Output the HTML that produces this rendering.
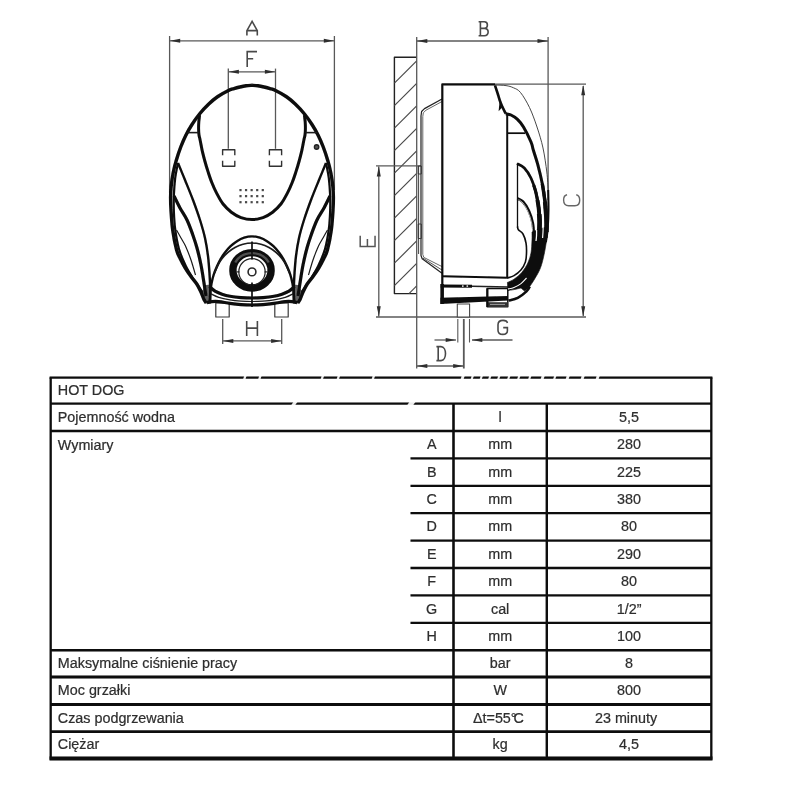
<!DOCTYPE html>
<html><head><meta charset="utf-8"><title>HOT DOG</title>
<style>
html,body{margin:0;padding:0;background:#fff;}
body{width:800px;height:800px;overflow:hidden;font-family:"Liberation Sans",sans-serif;}
svg{position:absolute;left:0;top:0;display:block;}
.t text{font-family:"Liberation Sans",sans-serif;font-size:14.35px;fill:#2e2e2e;stroke:#2e2e2e;stroke-width:0.22px;}
</style></head><body>
<svg class="d" width="800" height="800" viewBox="0 0 800 800" stroke-linecap="butt" stroke-linejoin="round">
<rect width="800" height="800" fill="#fff"/>
<g filter="url(#bl)">
<line x1="169.6" y1="36" x2="169.6" y2="193" stroke="#585858" stroke-width="1.3"/>
<line x1="334.4" y1="36" x2="334.4" y2="190" stroke="#585858" stroke-width="1.3"/>
<line x1="169.6" y1="40.8" x2="334.4" y2="40.8" stroke="#585858" stroke-width="1.3"/>
<path d="M169.9 40.8L180.2 38.8L180.2 42.8Z" fill="#2e2e2e"/>
<path d="M334.1 40.8L323.8 42.8L323.8 38.8Z" fill="#2e2e2e"/>
<line x1="228.3" y1="68.6" x2="228.3" y2="148.8" stroke="#585858" stroke-width="1.3"/>
<line x1="275.5" y1="68.6" x2="275.5" y2="148.8" stroke="#585858" stroke-width="1.3"/>
<line x1="228.3" y1="71.8" x2="275.5" y2="71.8" stroke="#585858" stroke-width="1.3"/>
<path d="M228.6 71.8L238.9 69.8L238.9 73.8Z" fill="#2e2e2e"/>
<path d="M275.2 71.8L264.9 73.8L264.9 69.8Z" fill="#2e2e2e"/>
<line x1="222.7" y1="319" x2="222.7" y2="344" stroke="#585858" stroke-width="1.3"/>
<line x1="281.7" y1="319" x2="281.7" y2="344" stroke="#585858" stroke-width="1.3"/>
<line x1="222.7" y1="340.9" x2="281.7" y2="340.9" stroke="#585858" stroke-width="1.3"/>
<path d="M223 340.9L233.3 338.9L233.3 342.9Z" fill="#2e2e2e"/>
<path d="M281.4 340.9L271.1 342.9L271.1 338.9Z" fill="#2e2e2e"/>
<path d="M252 85.3C251 85.38 248 85.52 246 85.8C244 86.08 242 86.53 240 87C238 87.47 236 87.97 234 88.6C232 89.22 230.75 89.39 228 90.75C225.25 92.11 220.75 94.5 217.5 96.75C214.25 99 211.5 101.38 208.5 104.25C205.5 107.12 202.25 110.62 199.5 114C196.75 117.38 194.25 121 192 124.5C189.75 128 187.88 131.25 186 135C184.12 138.75 182.38 142.75 180.75 147C179.12 151.25 177.5 156.25 176.25 160.5C175 164.75 174.09 168.25 173.25 172.5C172.41 176.75 171.64 181.92 171.2 186C170.76 190.08 170.63 193 170.6 197C170.57 201 170.65 204.5 171 210C171.35 215.5 171.77 223.33 172.7 230C173.63 236.67 175.32 245.17 176.6 250C177.88 254.83 178.95 256 180.4 259C181.85 262 183.53 265.08 185.3 268C187.07 270.92 189.08 273.83 191 276.5C192.92 279.17 195.13 281.42 196.8 284C198.47 286.58 199.8 289.42 201 292C202.2 294.58 203.12 297.67 204 299.5C204.88 301.33 205.92 302.42 206.3 303" stroke="#0a0a0a" stroke-width="3.4" fill="none" />
<path d="M252 85.3C253 85.38 256 85.52 258 85.8C260 86.08 262 86.53 264 87C266 87.47 268 87.97 270 88.6C272 89.22 273.25 89.39 276 90.75C278.75 92.11 283.25 94.5 286.5 96.75C289.75 99 292.5 101.38 295.5 104.25C298.5 107.12 301.75 110.62 304.5 114C307.25 117.38 309.75 121 312 124.5C314.25 128 316.12 131.25 318 135C319.88 138.75 321.62 142.75 323.25 147C324.88 151.25 326.5 156.25 327.75 160.5C329 164.75 329.91 168.25 330.75 172.5C331.59 176.75 332.36 181.92 332.8 186C333.24 190.08 333.37 193 333.4 197C333.43 201 333.35 204.5 333 210C332.65 215.5 332.23 223.33 331.3 230C330.37 236.67 328.68 245.17 327.4 250C326.12 254.83 325.05 256 323.6 259C322.15 262 320.47 265.08 318.7 268C316.93 270.92 314.92 273.83 313 276.5C311.08 279.17 308.87 281.42 307.2 284C305.53 286.58 304.2 289.42 303 292C301.8 294.58 300.88 297.67 300 299.5C299.12 301.33 298.08 302.42 297.7 303" stroke="#0a0a0a" stroke-width="3.4" fill="none" />
<path d="M178 163C177.53 165.5 175.88 172.67 175.2 178C174.52 183.33 174.12 189.33 173.9 195C173.68 200.67 173.67 206.17 173.9 212C174.13 217.83 174.45 223.83 175.3 230C176.15 236.17 177.25 243 179 249C180.75 255 183.3 260.83 185.8 266C188.3 271.17 191.22 275.67 194 280C196.78 284.33 201.08 290 202.5 292" stroke="#0a0a0a" stroke-width="2.2" fill="none" />
<path d="M326 163C326.47 165.5 328.12 172.67 328.8 178C329.48 183.33 329.88 189.33 330.1 195C330.32 200.67 330.33 206.17 330.1 212C329.87 217.83 329.55 223.83 328.7 230C327.85 236.17 326.75 243 325 249C323.25 255 320.7 260.83 318.2 266C315.7 271.17 312.78 275.67 310 280C307.22 284.33 302.92 290 301.5 292" stroke="#0a0a0a" stroke-width="2.2" fill="none" />
<path d="M199.6 115C199.47 116.17 198.97 119.67 198.8 122C198.63 124.33 198.57 126.83 198.6 129C198.63 131.17 198.75 133.17 199 135C199.25 136.83 199.57 137.4 200.1 140C200.63 142.6 201.4 147.06 202.2 150.6C203 154.14 203.92 157.7 204.9 161.25C205.88 164.8 206.95 168.36 208.1 171.9C209.25 175.44 210.38 178.97 211.8 182.5C213.22 186.03 214.75 189.56 216.6 193.1C218.45 196.64 220.43 200.56 222.9 203.75C225.37 206.94 228.38 209.94 231.4 212.25C234.42 214.56 237.57 216.38 241 217.6C244.43 218.82 248.33 219.6 252 219.6C255.67 219.6 259.57 218.82 263 217.6C266.43 216.38 269.58 214.56 272.6 212.25C275.62 209.94 278.63 206.94 281.1 203.75C283.57 200.56 285.55 196.64 287.4 193.1C289.25 189.56 290.78 186.03 292.2 182.5C293.62 178.97 294.75 175.44 295.9 171.9C297.05 168.36 298.12 164.8 299.1 161.25C300.08 157.7 301 154.14 301.8 150.6C302.6 147.06 303.37 142.6 303.9 140C304.43 137.4 304.75 136.83 305 135C305.25 133.17 305.37 131.17 305.4 129C305.43 126.83 305.37 124.33 305.2 122C305.03 119.67 304.53 116.17 304.4 115" stroke="#0a0a0a" stroke-width="3" fill="none" />
<path d="M187 132.6L198.6 132.6" stroke="#1a1a1a" stroke-width="1.6" fill="none" />
<path d="M317 132.6L305.4 132.6" stroke="#1a1a1a" stroke-width="1.6" fill="none" />
<path d="M178 163C179.17 165.83 182.5 173.83 185 180C187.5 186.17 190.5 193.33 193 200C195.5 206.67 198 213.67 200 220C202 226.33 203.67 232 205 238C206.33 244 207.23 249.83 208 256C208.77 262.17 209.23 269.33 209.6 275C209.97 280.67 210.08 285.5 210.2 290C210.32 294.5 210.28 300 210.3 302" stroke="#0a0a0a" stroke-width="2.4" fill="none" />
<path d="M326 163C324.83 165.83 321.5 173.83 319 180C316.5 186.17 313.5 193.33 311 200C308.5 206.67 306 213.67 304 220C302 226.33 300.33 232 299 238C297.67 244 296.77 249.83 296 256C295.23 262.17 294.77 269.33 294.4 275C294.03 280.67 293.92 285.5 293.8 290C293.68 294.5 293.72 300 293.7 302" stroke="#0a0a0a" stroke-width="2.4" fill="none" />
<path d="M174 196C175 198 177.83 204 180 208C182.17 212 184.92 215.67 187 220C189.08 224.33 190.83 229.33 192.5 234C194.17 238.67 195.58 242.83 197 248C198.42 253.17 199.83 259.17 201 265C202.17 270.83 203.17 277.83 204 283C204.83 288.17 205.67 293.83 206 296" stroke="#0a0a0a" stroke-width="3.2" fill="none" />
<path d="M330 196C329 198 326.17 204 324 208C321.83 212 319.08 215.67 317 220C314.92 224.33 313.17 229.33 311.5 234C309.83 238.67 308.42 242.83 307 248C305.58 253.17 304.17 259.17 303 265C301.83 270.83 300.83 277.83 300 283C299.17 288.17 298.33 293.83 298 296" stroke="#0a0a0a" stroke-width="3.2" fill="none" />
<path d="M176.5 230C177.25 231.33 179.5 235.33 181 238C182.5 240.67 183.83 242.33 185.5 246C187.17 249.67 189.33 255.17 191 260C192.67 264.83 194.75 272.5 195.5 275" stroke="#1a1a1a" stroke-width="1.2" fill="none" />
<path d="M327.5 230C326.75 231.33 324.5 235.33 323 238C321.5 240.67 320.17 242.33 318.5 246C316.83 249.67 314.67 255.17 313 260C311.33 264.83 309.25 272.5 308.5 275" stroke="#1a1a1a" stroke-width="1.2" fill="none" />
<path d="M209.5 302C209.63 300.5 209.98 296 210.3 293C210.62 290 210.85 287 211.4 284C211.95 281 212.68 277.9 213.6 275C214.52 272.1 215.73 269.27 216.9 266.6C218.07 263.93 219.22 261.38 220.6 259C221.98 256.62 223.53 254.43 225.2 252.3C226.87 250.17 228.63 248.05 230.6 246.2C232.57 244.35 234.73 242.62 237 241.2C239.27 239.78 241.7 238.5 244.2 237.7C246.7 236.9 249.4 236.4 252 236.4C254.6 236.4 257.3 236.9 259.8 237.7C262.3 238.5 264.73 239.78 267 241.2C269.27 242.62 271.43 244.35 273.4 246.2C275.37 248.05 277.13 250.17 278.8 252.3C280.47 254.43 282.02 256.62 283.4 259C284.78 261.38 285.93 263.93 287.1 266.6C288.27 269.27 289.48 272.1 290.4 275C291.32 277.9 292.05 281 292.6 284C293.15 287 293.38 290 293.7 293C294.02 296 294.37 300.5 294.5 302" stroke="#0a0a0a" stroke-width="2.4" fill="none" />
<path d="M214.5 273C215.08 271.67 216.7 267.45 218 265C219.3 262.55 220.63 260.42 222.3 258.3C223.97 256.18 225.88 254.1 228 252.3C230.12 250.5 232.5 248.85 235 247.5C237.5 246.15 240.17 244.95 243 244.2C245.83 243.45 249 243 252 243C255 243 258.17 243.45 261 244.2C263.83 244.95 266.5 246.15 269 247.5C271.5 248.85 273.88 250.5 276 252.3C278.12 254.1 280.03 256.18 281.7 258.3C283.37 260.42 284.7 262.55 286 265C287.3 267.45 288.92 271.67 289.5 273" stroke="#1a1a1a" stroke-width="1.7" fill="none" />
<rect x="215.8" y="303" width="13.4" height="14" stroke="#3a3a3a" stroke-width="1.2" fill="#fff"/>
<rect x="274.8" y="303" width="13.4" height="14" stroke="#3a3a3a" stroke-width="1.2" fill="#fff"/>
<path d="M209.5 286.6C210.42 287.37 212.92 289.93 215 291.2C217.08 292.47 219.5 293.35 222 294.2C224.5 295.05 226.83 295.73 230 296.3C233.17 296.87 237.33 297.32 241 297.6C244.67 297.88 248.33 298 252 298C255.67 298 259.33 297.88 263 297.6C266.67 297.32 270.83 296.87 274 296.3C277.17 295.73 279.5 295.05 282 294.2C284.5 293.35 286.92 292.47 289 291.2C291.08 289.93 293.58 287.37 294.5 286.6" stroke="#0a0a0a" stroke-width="3.2" fill="none" />
<path d="M207 302.6C207.83 302.43 210.04 301.77 212 301.6C213.96 301.43 215.75 301.3 218.75 301.6C221.75 301.9 226.29 302.9 230 303.4C233.71 303.9 237.33 304.33 241 304.6C244.67 304.87 248.33 305 252 305C255.67 305 259.33 304.87 263 304.6C266.67 304.33 270.29 303.9 274 303.4C277.71 302.9 282.25 301.9 285.25 301.6C288.25 301.3 290.04 301.43 292 301.6C293.96 301.77 296.17 302.43 297 302.6" stroke="#0a0a0a" stroke-width="3.2" fill="none" />
<path d="M210.5 293.6C211.88 294.23 215.5 296.35 218.75 297.4C222 298.45 226.29 299.28 230 299.9C233.71 300.52 237.33 300.83 241 301.1C244.67 301.37 248.33 301.5 252 301.5C255.67 301.5 259.33 301.37 263 301.1C266.67 300.83 270.29 300.52 274 299.9C277.71 299.28 282 298.45 285.25 297.4C288.5 296.35 292.12 294.23 293.5 293.6" stroke="#1a1a1a" stroke-width="1.2" fill="none" />
<path d="M202.2 291L206 285L210.8 284.5L210.8 303.8L206.3 303.8Z" fill="#0a0a0a" fill-opacity="0.62"/>
<path d="M301.8 291L298 285L293.2 284.5L293.2 303.8L297.7 303.8Z" fill="#0a0a0a" fill-opacity="0.62"/>
<ellipse cx="252.0" cy="270.3" rx="19.1" ry="17.7" stroke="#0a0a0a" stroke-width="7.4" fill="none"/>
<path d="M235.2 262.5A19 17.6 0 0 1 268.8 262.5" stroke="#505050" stroke-width="2.4" fill="none"/>
<circle cx="252.0" cy="271.8" r="13.2" stroke="#222" stroke-width="1.2" fill="none"/>
<circle cx="252.0" cy="271.90000000000003" r="3.9" stroke="#2a2a2a" stroke-width="1.6" fill="none"/>
<line x1="252" y1="241.5" x2="252" y2="259.4" stroke="#111" stroke-width="1.7"/>
<line x1="252" y1="282.6" x2="252" y2="307" stroke="#111" stroke-width="1.7"/>
<line x1="236.6" y1="271.9" x2="239.6" y2="271.9" stroke="#222" stroke-width="1.2"/>
<line x1="264.4" y1="271.9" x2="267.4" y2="271.9" stroke="#222" stroke-width="1.2"/>
<path d="M222.6 155.3L222.6 149.8L234.8 149.8L234.8 155.3M222.6 160.7L222.6 166.2L234.8 166.2L234.8 160.7" stroke="#333" stroke-width="1.4" fill="none" />
<path d="M269.4 155.3L269.4 149.8L281.6 149.8L281.6 155.3M269.4 160.7L269.4 166.2L281.6 166.2L281.6 160.7" stroke="#333" stroke-width="1.4" fill="none" />
<rect x="239.4" y="189" width="2.2" height="2.2" fill="#484848"/>
<rect x="244.97" y="189" width="2.2" height="2.2" fill="#484848"/>
<rect x="250.54" y="189" width="2.2" height="2.2" fill="#484848"/>
<rect x="256.11" y="189" width="2.2" height="2.2" fill="#484848"/>
<rect x="261.68" y="189" width="2.2" height="2.2" fill="#484848"/>
<rect x="239.4" y="195.05" width="2.2" height="2.2" fill="#484848"/>
<rect x="244.97" y="195.05" width="2.2" height="2.2" fill="#484848"/>
<rect x="250.54" y="195.05" width="2.2" height="2.2" fill="#484848"/>
<rect x="256.11" y="195.05" width="2.2" height="2.2" fill="#484848"/>
<rect x="261.68" y="195.05" width="2.2" height="2.2" fill="#484848"/>
<rect x="239.4" y="201.1" width="2.2" height="2.2" fill="#484848"/>
<rect x="244.97" y="201.1" width="2.2" height="2.2" fill="#484848"/>
<rect x="250.54" y="201.1" width="2.2" height="2.2" fill="#484848"/>
<rect x="256.11" y="201.1" width="2.2" height="2.2" fill="#484848"/>
<rect x="261.68" y="201.1" width="2.2" height="2.2" fill="#484848"/>
<circle cx="316.6" cy="147" r="2.2" stroke="#222" stroke-width="1.4" fill="#555"/>
<path d="M416.7 57.2L394.4 57.2L394.4 293.6L416.7 293.6" stroke="#222" stroke-width="1.4" fill="none" />
<line x1="394.4" y1="83.2" x2="416.7" y2="60.9" stroke="#4a4a4a" stroke-width="1.2"/>
<line x1="394.4" y1="105.7" x2="416.7" y2="83.4" stroke="#4a4a4a" stroke-width="1.2"/>
<line x1="394.4" y1="128.2" x2="416.7" y2="105.9" stroke="#4a4a4a" stroke-width="1.2"/>
<line x1="394.4" y1="150.7" x2="416.7" y2="128.4" stroke="#4a4a4a" stroke-width="1.2"/>
<line x1="394.4" y1="173.2" x2="416.7" y2="150.9" stroke="#4a4a4a" stroke-width="1.2"/>
<line x1="394.4" y1="195.7" x2="416.7" y2="173.4" stroke="#4a4a4a" stroke-width="1.2"/>
<line x1="394.4" y1="218.2" x2="416.7" y2="195.9" stroke="#4a4a4a" stroke-width="1.2"/>
<line x1="394.4" y1="240.7" x2="416.7" y2="218.4" stroke="#4a4a4a" stroke-width="1.2"/>
<line x1="394.4" y1="263.2" x2="416.7" y2="240.9" stroke="#4a4a4a" stroke-width="1.2"/>
<line x1="394.4" y1="285.7" x2="416.7" y2="263.4" stroke="#4a4a4a" stroke-width="1.2"/>
<line x1="409" y1="293.6" x2="416.7" y2="285.9" stroke="#4a4a4a" stroke-width="1.2"/>
<line x1="416.7" y1="37" x2="416.7" y2="368.5" stroke="#585858" stroke-width="1.3"/>
<line x1="548.1" y1="37" x2="548.1" y2="200" stroke="#585858" stroke-width="1.3"/>
<line x1="416.7" y1="41" x2="548.1" y2="41" stroke="#585858" stroke-width="1.3"/>
<path d="M417 41L427.3 39L427.3 43Z" fill="#2e2e2e"/>
<path d="M547.8 41L537.5 43L537.5 39Z" fill="#2e2e2e"/>
<line x1="495" y1="84.2" x2="586" y2="84.2" stroke="#585858" stroke-width="1.3"/>
<line x1="583.2" y1="86" x2="583.2" y2="316" stroke="#585858" stroke-width="1.3"/>
<path d="M583.2 85L585.2 95.3L581.2 95.3Z" fill="#2e2e2e"/>
<path d="M583.2 316.6L581.2 306.3L585.2 306.3Z" fill="#2e2e2e"/>
<line x1="376" y1="317" x2="586" y2="317" stroke="#585858" stroke-width="1.3"/>
<line x1="376" y1="165.8" x2="421" y2="165.8" stroke="#585858" stroke-width="1.3"/>
<line x1="378.8" y1="166.5" x2="378.8" y2="316.5" stroke="#585858" stroke-width="1.3"/>
<path d="M378.8 166.2L380.8 176.5L376.8 176.5Z" fill="#2e2e2e"/>
<path d="M378.8 316.6L376.8 306.3L380.8 306.3Z" fill="#2e2e2e"/>
<line x1="457.8" y1="319" x2="457.8" y2="342.5" stroke="#585858" stroke-width="1.1"/>
<line x1="469.5" y1="319" x2="469.5" y2="342.5" stroke="#585858" stroke-width="1.1"/>
<line x1="463.8" y1="319" x2="463.8" y2="368.5" stroke="#585858" stroke-width="1.8"/>
<line x1="434.5" y1="340" x2="456" y2="340" stroke="#585858" stroke-width="1.3"/>
<path d="M456 340L445.7 342L445.7 338Z" fill="#2e2e2e"/>
<line x1="472" y1="340" x2="512.5" y2="340" stroke="#585858" stroke-width="1.3"/>
<path d="M472 340L482.3 338L482.3 342Z" fill="#2e2e2e"/>
<line x1="416.7" y1="366" x2="463.8" y2="366" stroke="#585858" stroke-width="1.3"/>
<path d="M417 366L427.3 364L427.3 368Z" fill="#2e2e2e"/>
<path d="M463.5 366L453.2 368L453.2 364Z" fill="#2e2e2e"/>
<path d="M442 99L424.5 108.6L421.6 111.5L421 116L421 255.5L422.2 258.8L442 273.3" stroke="#222" stroke-width="1.2" fill="none" />
<path d="M442 101.5L426 110.2L423.3 112.8L422.8 116.5L422.8 254.5L423.8 257.4L442 266.6" stroke="#555" stroke-width="0.9" fill="none" />
<line x1="423" y1="258.2" x2="442" y2="270" stroke="#444" stroke-width="0.9"/>
<line x1="418.6" y1="166" x2="418.6" y2="254" stroke="#444" stroke-width="1"/>
<rect x="418.2" y="166" width="3.2" height="8" stroke="#333" stroke-width="0.9" fill="none"/>
<rect x="418.2" y="224" width="3.2" height="14.5" stroke="#333" stroke-width="0.9" fill="none"/>
<path d="M495 84.4L442.3 84.4L442.3 302" stroke="#0a0a0a" stroke-width="2.2" fill="none" />
<line x1="507.2" y1="115" x2="507.2" y2="277.5" stroke="#0a0a0a" stroke-width="2"/>
<line x1="507.2" y1="133.2" x2="525" y2="133.2" stroke="#0a0a0a" stroke-width="1.7"/>
<path d="M442.3 276.2L508 277.8" stroke="#0a0a0a" stroke-width="1.9" fill="none" />
<path d="M440.6 285.9L472 286.3" stroke="#0a0a0a" stroke-width="3" fill="none" />
<path d="M472 286.3L508 287" stroke="#222" stroke-width="1.5" fill="none" />
<path d="M440.4 297.8L508 295.9L508 300.4L440.4 303.9Z" fill="#0a0a0a"/>
<rect x="440.4" y="284" width="3.5" height="19.9" fill="#0a0a0a"/>
<rect x="487.2" y="288.4" width="20.6" height="18.4" stroke="#111" stroke-width="1.5" fill="none"/>
<rect x="487.2" y="302.2" width="20.6" height="4.8" fill="#333"/>
<line x1="490" y1="304.4" x2="505" y2="304.4" stroke="#bbb" stroke-width="0.8"/>
<line x1="487.4" y1="288.4" x2="487.4" y2="307" stroke="#111" stroke-width="2.2"/>
<rect x="462" y="285.3" width="1.6" height="1.6" fill="#ddd"/><rect x="466.5" y="285.3" width="1.6" height="1.6" fill="#ddd"/>
<rect x="457.3" y="304" width="12.3" height="13" stroke="#444" stroke-width="1.1" fill="#fff"/>
<path d="M495 85.3C495.42 86.58 496.7 90.47 497.5 93C498.3 95.53 499.05 98.33 499.8 100.5C500.55 102.67 501 103.78 502 106C503 108.22 505.17 112.5 505.8 113.8" stroke="#0a0a0a" stroke-width="2.6" fill="none" />
<path d="M499.8 99.5L498.6 111.2L503 106.5Z" fill="#0a0a0a"/>
<path d="M505.8 113.8C506.67 114 509.05 114.08 511 115C512.95 115.92 515.42 117.3 517.5 119.3C519.58 121.3 521.25 123.22 523.5 127C525.75 130.78 529.37 138.17 531 142C532.63 145.83 532.17 146.23 533.3 150C534.43 153.77 536.3 158.97 537.8 164.6C539.3 170.23 541.1 177.8 542.3 183.8C543.5 189.8 544.33 194.98 545 200.6C545.67 206.22 546.03 212.6 546.3 217.5C546.57 222.4 546.73 225.92 546.6 230C546.47 234.08 545.68 240 545.5 242" stroke="#0a0a0a" stroke-width="3" fill="none" />
<path d="M495 85C496.83 85.1 502.92 85.13 506 85.6C509.08 86.07 511.08 86.65 513.5 87.8C515.92 88.95 517.83 89.22 520.5 92.5C523.17 95.78 526.75 101.75 529.5 107.5C532.25 113.25 534.75 120.25 537 127C539.25 133.75 541.37 140.5 543 148C544.63 155.5 545.93 165 546.8 172C547.67 179 547.97 187 548.2 190" stroke="#333" stroke-width="0.9" fill="none" />
<path d="M548.2 190C548.25 193.33 548.57 203.67 548.5 210C548.43 216.33 548.12 223.33 547.8 228C547.48 232.67 546.8 236.33 546.6 238" stroke="#0a0a0a" stroke-width="2" fill="none" />
<path d="M517 163.5C518.22 164.25 521.97 165.57 524.3 168C526.63 170.43 529.05 173.97 531 178.1C532.95 182.23 534.68 187.73 536 192.8C537.32 197.87 538.23 203.63 538.9 208.5C539.57 213.37 539.92 216.75 540 222C540.08 227.25 539.5 237 539.4 240" stroke="#0a0a0a" stroke-width="2.6" fill="none" />
<path d="M533.6 185C534 186.3 535.13 188.88 536 192.8C536.87 196.72 538.17 203.63 538.8 208.5C539.43 213.37 539.73 216.75 539.8 222C539.87 227.25 539.3 237 539.2 240" stroke="#0a0a0a" stroke-width="3.2" fill="none" />
<path d="M537.4 200C537.62 201.42 538.33 204.83 538.7 208.5C539.07 212.17 539.55 216.75 539.6 222C539.65 227.25 539.1 237 539 240" stroke="#0a0a0a" stroke-width="3.9" fill="none" />
<path d="M539.2 214C539.27 215.33 539.63 217.67 539.6 222C539.57 226.33 539.1 237 539 240" stroke="#0a0a0a" stroke-width="4.6" fill="none" />
<path d="M542.3 183.8C542.52 185.17 543.12 188.63 543.6 192C544.08 195.37 544.77 199.75 545.2 204C545.63 208.25 545.98 212.83 546.2 217.5C546.42 222.17 546.45 229.58 546.5 232" stroke="#0a0a0a" stroke-width="3.4" fill="none" />
<path d="M545 202C545.2 204.58 545.95 212.5 546.2 217.5C546.45 222.5 546.45 229.58 546.5 232" stroke="#0a0a0a" stroke-width="4.2" fill="none" />
<line x1="517.5" y1="163.5" x2="517.5" y2="227.6" stroke="#111" stroke-width="1.3"/>
<path d="M517.5 198.4C518.42 198.97 521.12 199.73 523 201.8C524.88 203.87 527.18 207.27 528.8 210.8C530.42 214.33 531.8 218.13 532.7 223C533.6 227.87 533.95 237.17 534.2 240" stroke="#0a0a0a" stroke-width="2.8" fill="none" />
<path d="M518.5 199.6C519.25 200.17 521.42 201 523 203C524.58 205 526.55 208.27 528 211.6C529.45 214.93 530.87 218.93 531.7 223C532.53 227.07 532.78 233.83 533 236" stroke="#eee" stroke-width="0.7" fill="none" />
<path d="M517.5 226.5C517.65 227.05 517.48 228.55 518.4 229.8C519.32 231.05 521.73 231.8 523 234C524.27 236.2 525.42 239.83 526 243C526.58 246.17 526.6 249.83 526.5 253C526.4 256.17 526.33 259.17 525.4 262C524.47 264.83 522.8 267.73 520.9 270C519 272.27 516.25 274.27 514 275.6C511.75 276.93 508.5 277.6 507.4 278" stroke="#111" stroke-width="1.6" fill="none" />
<path d="M548.2 226C548.03 227.67 547.83 231.5 547.2 236C546.57 240.5 545.52 247.7 544.4 253C543.28 258.3 542.13 263.47 540.5 267.8C538.87 272.13 536.55 275.7 534.6 279C532.65 282.3 530.48 285.6 528.8 287.6C527.12 289.6 525.22 290.43 524.5 291L521 288C519.83 288.27 516.17 289.17 514 289.6C511.83 290.03 509 290.43 508 290.6L507.4 282.4C508.5 281.87 511.57 280.9 514 279.2C516.43 277.5 519.7 274.9 522 272.2C524.3 269.5 526.3 266.2 527.8 263C529.3 259.8 530.3 256.83 531 253C531.7 249.17 531.83 243.5 532 240C532.17 236.5 532 233.33 532 232Z" fill="#0a0a0a" stroke="#0a0a0a" stroke-width="0.6"/>
<path d="M536.6 230C536.58 231 536.6 234.17 536.5 236C536.4 237.83 536.08 240.17 536 241" stroke="#fff" stroke-width="1.3" fill="none" />
<path d="M543.2 226C543.17 227 543.1 230 543 232C542.9 234 542.67 237 542.6 238" stroke="#fff" stroke-width="1.2" fill="none" />
<path d="M508 288.9C509 288.65 511.83 288.28 514 287.4C516.17 286.52 518.92 285.17 521 283.6C523.08 282.03 525.58 278.93 526.5 278" stroke="#fff" stroke-width="1.1" fill="none" />
<path d="M508.5 300.6C510.05 300.13 514.8 299.33 517.8 297.8C520.8 296.27 524.5 293.28 526.5 291.4C528.5 289.52 529.25 287.32 529.8 286.5" stroke="#0a0a0a" stroke-width="2.6" fill="none" />
<path d="M0 14L0 9.2L5.2 0L10.4 9.2L10.4 14M0 9.2L10.4 9.2" transform="translate(246.9 21.4) rotate(0) scale(1)" stroke="#4a4a4a" stroke-width="1.6" fill="none" stroke-linecap="butt" stroke-linejoin="miter"/>
<path d="M0 15.4L0 0L9.8 0M0 7.2L6 7.2" transform="translate(247.2 51.6) rotate(0) scale(1)" stroke="#4a4a4a" stroke-width="1.6" fill="none" stroke-linecap="butt" stroke-linejoin="miter"/>
<path d="M0 0L0 14M10 0L10 14M0 6.8L10 6.8" transform="translate(246.7 320.9) rotate(0) scale(1.07)" stroke="#4a4a4a" stroke-width="1.5" fill="none" stroke-linecap="butt" stroke-linejoin="miter"/>
<path d="M-0.6 0L5.2 0C9.2 0 9.2 6.6 5.2 6.6L1.2 6.6M5.2 6.6C10.2 6.6 10.2 14 5.2 14L-0.6 14M1.2 0L1.2 14" transform="translate(479.2 21.8) rotate(0) scale(1)" stroke="#4a4a4a" stroke-width="1.6" fill="none" stroke-linecap="butt" stroke-linejoin="miter"/>
<path d="M-0.6 0L4 0C10 0 10 14 4 14L-0.6 14M1.2 0L1.2 14" transform="translate(437 346.6) rotate(0) scale(1)" stroke="#4a4a4a" stroke-width="1.6" fill="none" stroke-linecap="butt" stroke-linejoin="miter"/>
<path d="M9.4 2.6C9 0.6 7.4 0 5 0C1.6 0 0 1.6 0 4.4L0 9.8C0 12.6 1.6 14 4.8 14C7.8 14 9.4 12.6 9.4 10.4L9.4 7.2L5.2 7.2" transform="translate(498 320.4) rotate(0) scale(1)" stroke="#4a4a4a" stroke-width="1.6" fill="none" stroke-linecap="butt" stroke-linejoin="miter"/>
<path d="M9.6 3C9.2 0.8 7.6 0 5 0C1.6 0 0 1.6 0 4.4L0 9.8C0 12.6 1.6 14 4.8 14C7.8 14 9.2 13.2 9.6 11" transform="translate(563.6 205.8) rotate(-90) scale(1.15)" stroke="#666" stroke-width="1.22" fill="none" stroke-linecap="butt" stroke-linejoin="miter"/>
<path d="M10 0L0 0L0 14L10 14M0 6.8L7 6.8" transform="translate(360.2 246.4) rotate(-90) scale(1.06)" stroke="#555" stroke-width="1.42" fill="none" stroke-linecap="butt" stroke-linejoin="miter"/>
</g>
<g class="t" filter="url(#bl2)">
<line x1="49.6" y1="377.6" x2="712.4" y2="377.6" stroke="#0d0d0d" stroke-width="2.3"/>
<line x1="50.7" y1="403.7" x2="711.3" y2="403.7" stroke="#0d0d0d" stroke-width="2.3"/>
<line x1="50.7" y1="431" x2="711.3" y2="431" stroke="#0d0d0d" stroke-width="2.3"/>
<line x1="410.5" y1="458.4" x2="711.3" y2="458.4" stroke="#0d0d0d" stroke-width="2.3"/>
<line x1="410.5" y1="485.8" x2="711.3" y2="485.8" stroke="#0d0d0d" stroke-width="2.3"/>
<line x1="410.5" y1="513.2" x2="711.3" y2="513.2" stroke="#0d0d0d" stroke-width="2.3"/>
<line x1="410.5" y1="540.6" x2="711.3" y2="540.6" stroke="#0d0d0d" stroke-width="2.3"/>
<line x1="410.5" y1="568" x2="711.3" y2="568" stroke="#0d0d0d" stroke-width="2.3"/>
<line x1="410.5" y1="595.4" x2="711.3" y2="595.4" stroke="#0d0d0d" stroke-width="2.3"/>
<line x1="410.5" y1="622.8" x2="711.3" y2="622.8" stroke="#0d0d0d" stroke-width="2.3"/>
<line x1="50.7" y1="650.2" x2="711.3" y2="650.2" stroke="#0d0d0d" stroke-width="2.6"/>
<line x1="50.7" y1="677" x2="711.3" y2="677" stroke="#0d0d0d" stroke-width="3.1"/>
<line x1="50.7" y1="704.6" x2="711.3" y2="704.6" stroke="#0d0d0d" stroke-width="3"/>
<line x1="50.7" y1="731.7" x2="711.3" y2="731.7" stroke="#0d0d0d" stroke-width="2.8"/>
<line x1="49.5" y1="758.5" x2="712.5" y2="758.5" stroke="#0d0d0d" stroke-width="3.8"/>
<line x1="50.7" y1="377.6" x2="50.7" y2="759.8" stroke="#0d0d0d" stroke-width="2.3"/>
<line x1="711.3" y1="377.6" x2="711.3" y2="759.8" stroke="#0d0d0d" stroke-width="2.3"/>
<line x1="453.5" y1="403.7" x2="453.5" y2="758.3" stroke="#0d0d0d" stroke-width="2.6"/>
<line x1="546.8" y1="403.7" x2="546.8" y2="758.3" stroke="#0d0d0d" stroke-width="2.4"/>
<text x="57.8" y="395.05" text-anchor="start">HOT DOG</text>
<text x="57.8" y="421.75" text-anchor="start">Pojemność wodna</text>
<text x="57.8" y="450.3" text-anchor="start">Wymiary</text>
<text x="57.8" y="668" text-anchor="start">Maksymalne ciśnienie pracy</text>
<text x="57.8" y="695.2" text-anchor="start">Moc grzałki</text>
<text x="57.8" y="722.55" text-anchor="start">Czas podgrzewania</text>
<text x="57.8" y="749.4" text-anchor="start">Ciężar</text>
<text x="500.15" y="421.75" text-anchor="middle">l</text>
<text x="629.05" y="421.75" text-anchor="middle">5,5</text>
<text x="500.15" y="449.1" text-anchor="middle">mm</text>
<text x="629.05" y="449.1" text-anchor="middle">280</text>
<text x="500.15" y="476.5" text-anchor="middle">mm</text>
<text x="629.05" y="476.5" text-anchor="middle">225</text>
<text x="500.15" y="503.9" text-anchor="middle">mm</text>
<text x="629.05" y="503.9" text-anchor="middle">380</text>
<text x="500.15" y="531.3" text-anchor="middle">mm</text>
<text x="629.05" y="531.3" text-anchor="middle">80</text>
<text x="500.15" y="558.7" text-anchor="middle">mm</text>
<text x="629.05" y="558.7" text-anchor="middle">290</text>
<text x="500.15" y="586.1" text-anchor="middle">mm</text>
<text x="629.05" y="586.1" text-anchor="middle">80</text>
<text x="500.15" y="613.5" text-anchor="middle">cal</text>
<text x="629.05" y="613.5" text-anchor="middle">1/2”</text>
<text x="500.15" y="640.9" text-anchor="middle">mm</text>
<text x="629.05" y="640.9" text-anchor="middle">100</text>
<text x="500.15" y="668" text-anchor="middle">bar</text>
<text x="629.05" y="668" text-anchor="middle">8</text>
<text x="500.15" y="695.2" text-anchor="middle">W</text>
<text x="629.05" y="695.2" text-anchor="middle">800</text>
<text x="498.35" y="722.55" text-anchor="middle">Δt=55°<tspan dx="-3.2">C</tspan></text>
<text x="626.05" y="722.55" text-anchor="middle">23 minuty</text>
<text x="500.15" y="749.4" text-anchor="middle">kg</text>
<text x="629.05" y="749.4" text-anchor="middle">4,5</text>
<text x="431.7" y="449.1" text-anchor="middle">A</text>
<text x="431.7" y="476.5" text-anchor="middle">B</text>
<text x="431.7" y="503.9" text-anchor="middle">C</text>
<text x="431.7" y="531.3" text-anchor="middle">D</text>
<text x="431.7" y="558.7" text-anchor="middle">E</text>
<text x="431.7" y="586.1" text-anchor="middle">F</text>
<text x="431.7" y="613.5" text-anchor="middle">G</text>
<text x="431.7" y="640.9" text-anchor="middle">H</text>
<path d="M244.2 375.8l2.4 0l-1.2 3.6l-2.4 0z" fill="#fff" fill-opacity="0.92"/>
<path d="M259.2 375.8l2.4 0l-1.2 3.6l-2.4 0z" fill="#fff" fill-opacity="0.92"/>
<path d="M321.7 375.8l2.4 0l-1.2 3.6l-2.4 0z" fill="#fff" fill-opacity="0.92"/>
<path d="M337.7 375.8l2.4 0l-1.2 3.6l-2.4 0z" fill="#fff" fill-opacity="0.92"/>
<path d="M372.7 375.8l2.4 0l-1.2 3.6l-2.4 0z" fill="#fff" fill-opacity="0.92"/>
<path d="M461.7 375.8l3 0l-1.2 3.6l-3 0z" fill="#fff" fill-opacity="0.92"/>
<path d="M471.7 375.8l2.2 0l-1.2 3.6l-2.2 0z" fill="#fff" fill-opacity="0.92"/>
<path d="M480.7 375.8l2.2 0l-1.2 3.6l-2.2 0z" fill="#fff" fill-opacity="0.92"/>
<path d="M489.2 375.8l2.2 0l-1.2 3.6l-2.2 0z" fill="#fff" fill-opacity="0.92"/>
<path d="M498.2 375.8l2.2 0l-1.2 3.6l-2.2 0z" fill="#fff" fill-opacity="0.92"/>
<path d="M508.2 375.8l2.2 0l-1.2 3.6l-2.2 0z" fill="#fff" fill-opacity="0.92"/>
<path d="M518.2 375.8l2.2 0l-1.2 3.6l-2.2 0z" fill="#fff" fill-opacity="0.92"/>
<path d="M529.2 375.8l2.2 0l-1.2 3.6l-2.2 0z" fill="#fff" fill-opacity="0.92"/>
<path d="M541.7 375.8l3 0l-1.2 3.6l-3 0z" fill="#fff" fill-opacity="0.92"/>
<path d="M554.2 375.8l2.2 0l-1.2 3.6l-2.2 0z" fill="#fff" fill-opacity="0.92"/>
<path d="M566.7 375.8l3 0l-1.2 3.6l-3 0z" fill="#fff" fill-opacity="0.92"/>
<path d="M581.7 375.8l3 0l-1.2 3.6l-3 0z" fill="#fff" fill-opacity="0.92"/>
<path d="M596.7 375.8l3 0l-1.2 3.6l-3 0z" fill="#fff" fill-opacity="0.92"/>
<path d="M293.5 401.8l4 0l-2.5 3.8l-4 0z" fill="#fff" fill-opacity="0.92"/>
<path d="M409.5 401.8l6 0l-2.5 3.8l-6 0z" fill="#fff" fill-opacity="0.92"/>
</g>
<defs>
<filter id="bl" x="0" y="0" width="800" height="800" filterUnits="userSpaceOnUse"><feGaussianBlur stdDeviation="0.55"/></filter>
<filter id="bl2" x="0" y="0" width="800" height="800" filterUnits="userSpaceOnUse"><feGaussianBlur stdDeviation="0.5"/></filter>
</defs>
</svg>
</body></html>
